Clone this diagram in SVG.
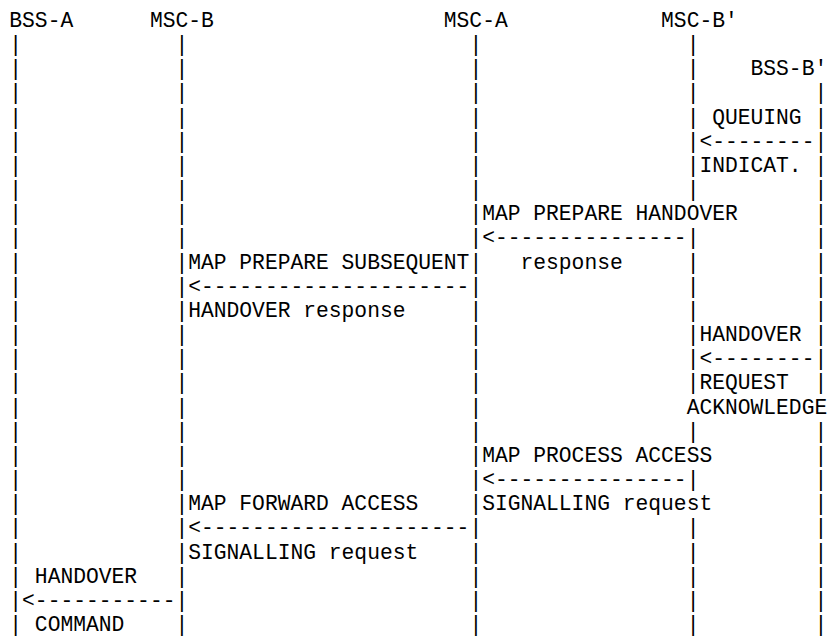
<svg xmlns="http://www.w3.org/2000/svg" width="829" height="637" viewBox="0 0 829 637">
<style>
.t{font-family:"Liberation Mono","Courier New",monospace;font-size:21.3px;fill:#000;white-space:pre}
</style>
<rect x="0" y="0" width="829" height="637" fill="#fff"/>
<g id="bss-a">
<text class="t" x="9.3" y="27">BSS-A</text>
<text class="t"><tspan x="9.3" y="51.16">|</tspan><tspan x="9.3" y="75.32">|</tspan><tspan x="9.3" y="99.48">|</tspan><tspan x="9.3" y="123.64">|</tspan><tspan x="9.3" y="147.8">|</tspan><tspan x="9.3" y="171.96">|</tspan><tspan x="9.3" y="196.12">|</tspan><tspan x="9.3" y="220.28">|</tspan><tspan x="9.3" y="244.44">|</tspan><tspan x="9.3" y="268.6">|</tspan><tspan x="9.3" y="292.76">|</tspan><tspan x="9.3" y="316.92">|</tspan><tspan x="9.3" y="341.08">|</tspan><tspan x="9.3" y="365.24">|</tspan><tspan x="9.3" y="389.4">|</tspan><tspan x="9.3" y="413.56">|</tspan><tspan x="9.3" y="437.72">|</tspan><tspan x="9.3" y="461.88">|</tspan><tspan x="9.3" y="486.04">|</tspan><tspan x="9.3" y="510.2">|</tspan><tspan x="9.3" y="534.36">|</tspan><tspan x="9.3" y="558.52">|</tspan><tspan x="9.3" y="582.68">|</tspan><tspan x="9.3" y="606.84">|</tspan><tspan x="9.3" y="631">|</tspan></text>
</g>
<g id="msc-b">
<text class="t" x="149.88" y="27">MSC-B</text>
<text class="t"><tspan x="175.44" y="51.16">|</tspan><tspan x="175.44" y="75.32">|</tspan><tspan x="175.44" y="99.48">|</tspan><tspan x="175.44" y="123.64">|</tspan><tspan x="175.44" y="147.8">|</tspan><tspan x="175.44" y="171.96">|</tspan><tspan x="175.44" y="196.12">|</tspan><tspan x="175.44" y="220.28">|</tspan><tspan x="175.44" y="244.44">|</tspan><tspan x="175.44" y="268.6">|</tspan><tspan x="175.44" y="292.76">|</tspan><tspan x="175.44" y="316.92">|</tspan><tspan x="175.44" y="341.08">|</tspan><tspan x="175.44" y="365.24">|</tspan><tspan x="175.44" y="389.4">|</tspan><tspan x="175.44" y="413.56">|</tspan><tspan x="175.44" y="437.72">|</tspan><tspan x="175.44" y="461.88">|</tspan><tspan x="175.44" y="486.04">|</tspan><tspan x="175.44" y="510.2">|</tspan><tspan x="175.44" y="534.36">|</tspan><tspan x="175.44" y="558.52">|</tspan><tspan x="175.44" y="582.68">|</tspan><tspan x="175.44" y="606.84">|</tspan><tspan x="175.44" y="631">|</tspan></text>
</g>
<g id="msc-a">
<text class="t" x="443.82" y="27">MSC-A</text>
<text class="t"><tspan x="469.38" y="51.16">|</tspan><tspan x="469.38" y="75.32">|</tspan><tspan x="469.38" y="99.48">|</tspan><tspan x="469.38" y="123.64">|</tspan><tspan x="469.38" y="147.8">|</tspan><tspan x="469.38" y="171.96">|</tspan><tspan x="469.38" y="196.12">|</tspan><tspan x="469.38" y="220.28">|</tspan><tspan x="469.38" y="244.44">|</tspan><tspan x="469.38" y="268.6">|</tspan><tspan x="469.38" y="292.76">|</tspan><tspan x="469.38" y="316.92">|</tspan><tspan x="469.38" y="341.08">|</tspan><tspan x="469.38" y="365.24">|</tspan><tspan x="469.38" y="389.4">|</tspan><tspan x="469.38" y="413.56">|</tspan><tspan x="469.38" y="437.72">|</tspan><tspan x="469.38" y="461.88">|</tspan><tspan x="469.38" y="486.04">|</tspan><tspan x="469.38" y="510.2">|</tspan><tspan x="469.38" y="534.36">|</tspan><tspan x="469.38" y="558.52">|</tspan><tspan x="469.38" y="582.68">|</tspan><tspan x="469.38" y="606.84">|</tspan><tspan x="469.38" y="631">|</tspan></text>
</g>
<g id="msc-b-prime">
<text class="t" x="661.08" y="27">MSC-B'</text>
<text class="t"><tspan x="686.64" y="51.16">|</tspan><tspan x="686.64" y="75.32">|</tspan><tspan x="686.64" y="99.48">|</tspan><tspan x="686.64" y="123.64">|</tspan><tspan x="686.64" y="147.8">|</tspan><tspan x="686.64" y="171.96">|</tspan><tspan x="686.64" y="196.12">|</tspan><tspan x="686.64" y="244.44">|</tspan><tspan x="686.64" y="268.6">|</tspan><tspan x="686.64" y="292.76">|</tspan><tspan x="686.64" y="316.92">|</tspan><tspan x="686.64" y="341.08">|</tspan><tspan x="686.64" y="365.24">|</tspan><tspan x="686.64" y="389.4">|</tspan><tspan x="686.64" y="437.72">|</tspan><tspan x="686.64" y="486.04">|</tspan><tspan x="686.64" y="534.36">|</tspan><tspan x="686.64" y="558.52">|</tspan><tspan x="686.64" y="582.68">|</tspan><tspan x="686.64" y="606.84">|</tspan><tspan x="686.64" y="631">|</tspan></text>
</g>
<g id="bss-b-prime">
<text class="t" x="750.54" y="75.32">BSS-B'</text>
<text class="t"><tspan x="814.44" y="99.48">|</tspan><tspan x="814.44" y="123.64">|</tspan><tspan x="814.44" y="147.8">|</tspan><tspan x="814.44" y="171.96">|</tspan><tspan x="814.44" y="196.12">|</tspan><tspan x="814.44" y="220.28">|</tspan><tspan x="814.44" y="244.44">|</tspan><tspan x="814.44" y="268.6">|</tspan><tspan x="814.44" y="292.76">|</tspan><tspan x="814.44" y="316.92">|</tspan><tspan x="814.44" y="341.08">|</tspan><tspan x="814.44" y="365.24">|</tspan><tspan x="814.44" y="389.4">|</tspan><tspan x="814.44" y="437.72">|</tspan><tspan x="814.44" y="461.88">|</tspan><tspan x="814.44" y="486.04">|</tspan><tspan x="814.44" y="510.2">|</tspan><tspan x="814.44" y="534.36">|</tspan><tspan x="814.44" y="558.52">|</tspan><tspan x="814.44" y="582.68">|</tspan><tspan x="814.44" y="606.84">|</tspan><tspan x="814.44" y="631">|</tspan></text>
</g>
<g id="connectors">
<g id="msg-queuing-indication">
<text class="t" x="712.2" y="123.64">QUEUING</text>
<text class="t" x="699.42" y="147.8">&lt;--------</text>
<text class="t" x="699.42" y="171.96">INDICAT.</text>
</g>
<g id="msg-map-prepare-handover-response">
<text class="t" x="482.16" y="220.28">MAP PREPARE HANDOVER</text>
<text class="t" x="482.16" y="244.44">&lt;---------------</text>
<text class="t" x="520.5" y="268.6">response</text>
</g>
<g id="msg-map-prepare-subsequent-handover-response">
<text class="t" x="188.22" y="268.6">MAP PREPARE SUBSEQUENT</text>
<text class="t" x="188.22" y="292.76">&lt;---------------------</text>
<text class="t" x="188.22" y="316.92">HANDOVER response</text>
</g>
<g id="msg-handover-request-ack">
<text class="t" x="699.42" y="341.08">HANDOVER</text>
<text class="t" x="699.42" y="365.24">&lt;--------</text>
<text class="t" x="699.42" y="389.4">REQUEST</text>
<text class="t" x="686.64" y="413.56">ACKNOWLEDGE</text>
</g>
<g id="msg-map-process-access-signalling">
<text class="t" x="482.16" y="461.88">MAP PROCESS ACCESS</text>
<text class="t" x="482.16" y="486.04">&lt;---------------</text>
<text class="t" x="482.16" y="510.2">SIGNALLING request</text>
</g>
<g id="msg-map-forward-access-signalling">
<text class="t" x="188.22" y="510.2">MAP FORWARD ACCESS</text>
<text class="t" x="188.22" y="534.36">&lt;---------------------</text>
<text class="t" x="188.22" y="558.52">SIGNALLING request</text>
</g>
<g id="msg-handover-command">
<text class="t" x="34.86" y="582.68">HANDOVER</text>
<text class="t" x="22.08" y="606.84">&lt;-----------</text>
<text class="t" x="34.86" y="631">COMMAND</text>
</g>
</g>
</svg>
